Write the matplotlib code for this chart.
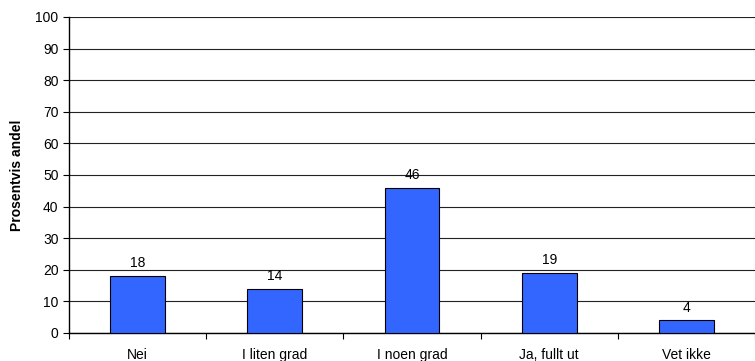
import matplotlib.pyplot as plt
import numpy as np

categories = ['Nei', 'I liten grad', 'I noen grad', 'Ja, fullt ut', 'Vet ikke']
values = [18, 14, 46, 19, 4]

plt.rcParams['font.family'] = ['Liberation Sans', 'DejaVu Sans']

fig = plt.figure(figsize=(7.55, 3.61), dpi=100)
ax = fig.add_axes([0.0914, 0.0776, 0.9086, 0.8754])

x = np.arange(len(categories))
ax.bar(x, values, width=0.4, color='#3366FF', edgecolor='black', linewidth=0.8, zorder=3)

for xi, v in zip(x, values):
    ax.text(xi, v + 1.8, str(v), ha='center', va='bottom', fontsize=10)

ax.set_xlim(-0.5, len(categories) - 0.5)
ax.set_ylim(0, 100)
ax.set_yticks(range(0, 101, 10))
ax.yaxis.grid(True, color='#222222', linewidth=0.8)
ax.set_axisbelow(True)

ax.set_xticks(np.arange(-0.5, len(categories) + 0.5, 1))
ax.set_xticklabels([])
ax.set_xticks(x, minor=True)
ax.set_xticklabels(categories, minor=True, fontsize=10)
ax.tick_params(axis='x', which='minor', length=0, pad=11)
ax.tick_params(axis='x', which='major', length=4, direction='out')
ax.tick_params(axis='y', length=4, labelsize=10)

ax.spines['top'].set_visible(False)
ax.spines['right'].set_visible(False)
ax.spines['left'].set_linewidth(1.0)
ax.spines['bottom'].set_linewidth(1.0)

ax.set_ylabel('Prosentvis andel', fontsize=10, fontweight='bold', labelpad=8)

fig.savefig('out.png', dpi=100)
